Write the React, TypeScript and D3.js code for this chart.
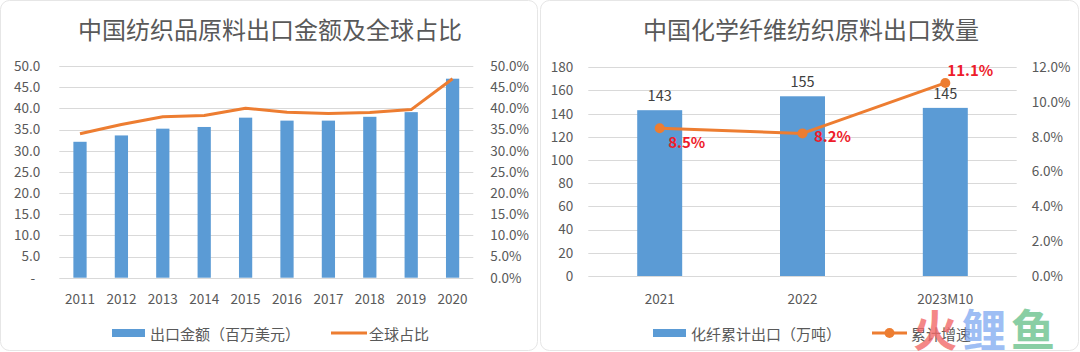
import React, { useEffect, useRef } from 'react'
import * as d3 from 'd3'

const W = 1080
const H = 352
const FONT = "'Noto Sans CJK SC', 'Noto Sans', sans-serif"
const BLUE = '#5B9BD5'
const ORANGE = '#ED7D31'
const GRID = '#D9D9D9'
const TEXT = '#595959'
const RED = '#EE1C2A'

// left chart: textile raw material exports
const leftTitle = '中国纺织品原料出口金额及全球占比'
const years = ['2011', '2012', '2013', '2014', '2015', '2016', '2017', '2018', '2019', '2020']
const exportValue = [32.1, 33.6, 35.2, 35.6, 37.8, 37.1, 37.1, 38.0, 39.1, 47.0]
const globalShare = [0.34, 0.362, 0.38, 0.383, 0.4, 0.391, 0.388, 0.39, 0.397, 0.47]
const leftLegend = ['出口金额（百万美元）', '全球占比']

// right chart: chemical fibre exports
const rightTitle = '中国化学纤维纺织原料出口数量'
const periods = ['2021', '2022', '2023M10']
const fiberExport = [143, 155, 145]
const fiberGrowth = [0.085, 0.082, 0.111]
const rightLegend = ['化纤累计出口（万吨）', '累计增速']

const watermark = ['火', '鲤', '鱼']

const App = () => {
  const ref = useRef<SVGSVGElement>(null)

  useEffect(() => {
    const svg = d3.select(ref.current)
    svg.selectAll('*').remove()
    svg.attr('font-family', FONT)

    svg.append('rect').attr('width', W).attr('height', H).attr('fill', '#fff')

    // cards
    svg.append('rect').attr('x', 0.5).attr('y', 0.5).attr('width', 537).attr('height', 350)
      .attr('rx', 9).attr('fill', 'none').attr('stroke', '#E6E6E6')
    svg.append('rect').attr('x', 540.5).attr('y', 0.5).attr('width', 538).attr('height', 350)
      .attr('rx', 9).attr('fill', 'none').attr('stroke', '#E6E6E6')

    const styleAxis = (g, anchor) => {
      g.select('.domain').remove()
      g.selectAll('text').attr('fill', TEXT).attr('font-size', 13.5).attr('font-family', FONT)
        .attr('text-anchor', anchor)
    }

    // ---------- left chart ----------
    {
      const g = svg.append('g')
      const x = d3.scaleBand().domain(years).range([59.3, 473.3]).paddingInner(0.68).paddingOuter(0.34)
      const y = d3.scaleLinear().domain([0, 50]).range([277.7, 66])
      const yR = d3.scaleLinear().domain([0, 0.5]).range([277.7, 66])

      g.append('g') // grid
        .selectAll('line')
        .data(y.ticks(10))
        .join('line')
        .attr('x1', 59.3).attr('x2', 473.3)
        .attr('y1', d => Math.round(y(d)) + 0.5).attr('y2', d => Math.round(y(d)) + 0.5)
        .attr('stroke', GRID)

      g.append('g')
        .attr('transform', 'translate(59.3,0)')
        .call(d3.axisLeft(y).ticks(10).tickSize(0).tickPadding(19)
          .tickFormat(d => (d === 0 ? '-' : d3.format('.1f')(d))))
        .call(a => styleAxis(a, 'end'))
        .call(a => a.selectAll('.tick text').filter(d => d === 0).attr('dx', -5))

      g.append('g')
        .attr('transform', 'translate(473.3,0)')
        .call(d3.axisRight(yR).ticks(10).tickSize(0).tickPadding(17).tickFormat(d3.format('.1%')))
        .call(a => styleAxis(a, 'start'))

      g.append('g') // bars
        .attr('fill', BLUE)
        .selectAll('rect')
        .data(exportValue)
        .join('rect')
        .attr('x', (d, i) => x(years[i]))
        .attr('y', d => y(d))
        .attr('width', x.bandwidth())
        .attr('height', d => y(0) - y(d))

      const line = d3.line<number>()
        .x((d, i) => x(years[i]) + x.bandwidth() / 2)
        .y(d => yR(d))
      g.append('path')
        .datum(globalShare)
        .attr('d', line)
        .attr('fill', 'none')
        .attr('stroke', ORANGE)
        .attr('stroke-width', 3)
        .attr('stroke-linejoin', 'round')

      g.append('g') // x labels
        .selectAll('text')
        .data(years)
        .join('text')
        .attr('x', d => x(d) + x.bandwidth() / 2)
        .attr('y', 298)
        .attr('dominant-baseline', 'central')
        .attr('text-anchor', 'middle')
        .attr('font-size', 13.5)
        .attr('fill', TEXT)
        .text(d => d)

      g.append('text')
        .attr('x', 270).attr('y', 28)
        .attr('text-anchor', 'middle').attr('dominant-baseline', 'central')
        .attr('font-size', 24).attr('fill', TEXT)
        .text(leftTitle)

      // legend
      g.append('rect').attr('x', 112).attr('y', 329).attr('width', 33).attr('height', 8).attr('fill', BLUE)
      g.append('text').attr('x', 150).attr('y', 333).attr('dominant-baseline', 'central')
        .attr('font-size', 15).attr('fill', TEXT).text(leftLegend[0])
      g.append('line').attr('x1', 331).attr('x2', 367).attr('y1', 333).attr('y2', 333)
        .attr('stroke', ORANGE).attr('stroke-width', 3)
      g.append('text').attr('x', 369).attr('y', 333).attr('dominant-baseline', 'central')
        .attr('font-size', 15).attr('fill', TEXT).text(leftLegend[1])
    }

    // ---------- right chart ----------
    {
      const g = svg.append('g')
      const x = d3.scaleBand().domain(periods).range([588.3, 1016.7]).paddingInner(0.685).paddingOuter(0.3425)
      const y = d3.scaleLinear().domain([0, 180]).range([276, 67.3])
      const yR = d3.scaleLinear().domain([0, 0.12]).range([276, 67.3])
      const cx = (i: number) => x(periods[i]) + x.bandwidth() / 2

      g.append('g') // grid
        .selectAll('line')
        .data(y.ticks(9))
        .join('line')
        .attr('x1', 588.3).attr('x2', 1016.7)
        .attr('y1', d => Math.round(y(d)) + 0.5).attr('y2', d => Math.round(y(d)) + 0.5)
        .attr('stroke', GRID)

      g.append('g')
        .attr('transform', 'translate(588.3,0)')
        .call(d3.axisLeft(y).ticks(9).tickSize(0).tickPadding(15))
        .call(a => styleAxis(a, 'end'))

      g.append('g')
        .attr('transform', 'translate(1016.7,0)')
        .call(d3.axisRight(yR).ticks(6).tickSize(0).tickPadding(15).tickFormat(d3.format('.1%')))
        .call(a => styleAxis(a, 'start'))

      g.append('g') // bars
        .attr('fill', BLUE)
        .selectAll('rect')
        .data(fiberExport)
        .join('rect')
        .attr('x', (d, i) => x(periods[i]))
        .attr('y', d => y(d))
        .attr('width', x.bandwidth())
        .attr('height', d => y(0) - y(d))

      g.append('g') // bar labels
        .selectAll('text')
        .data(fiberExport)
        .join('text')
        .attr('x', (d, i) => cx(i))
        .attr('y', d => y(d) - 15.5)
        .attr('text-anchor', 'middle')
        .attr('dominant-baseline', 'central')
        .attr('font-size', 14.5)
        .attr('fill', '#404040')
        .text(d => d)

      const line = d3.line<number>().x((d, i) => cx(i)).y(d => yR(d))
      g.append('path')
        .datum(fiberGrowth)
        .attr('d', line)
        .attr('fill', 'none')
        .attr('stroke', ORANGE)
        .attr('stroke-width', 3)
        .attr('stroke-linejoin', 'round')

      g.append('g')
        .attr('fill', ORANGE)
        .selectAll('circle')
        .data(fiberGrowth)
        .join('circle')
        .attr('cx', (d, i) => cx(i))
        .attr('cy', d => yR(d))
        .attr('r', 5)

      // growth label placement: right-below, right, right-above
      const labelOffset = [[27, 13], [30, 2], [25, -13]]
      g.append('g')
        .selectAll('text')
        .data(fiberGrowth)
        .join('text')
        .attr('x', (d, i) => cx(i) + labelOffset[i][0])
        .attr('y', (d, i) => yR(d) + labelOffset[i][1])
        .attr('text-anchor', 'middle')
        .attr('dominant-baseline', 'central')
        .attr('font-size', 15)
        .attr('font-weight', 'bold')
        .attr('fill', RED)
        .text(d => d3.format('.1%')(d))

      g.append('g') // x labels
        .selectAll('text')
        .data(periods)
        .join('text')
        .attr('x', (d, i) => cx(i))
        .attr('y', 298)
        .attr('dominant-baseline', 'central')
        .attr('text-anchor', 'middle')
        .attr('font-size', 13.5)
        .attr('fill', TEXT)
        .text(d => d)

      g.append('text')
        .attr('x', 811).attr('y', 28)
        .attr('text-anchor', 'middle').attr('dominant-baseline', 'central')
        .attr('font-size', 24).attr('fill', TEXT)
        .text(rightTitle)

      // legend
      g.append('rect').attr('x', 653).attr('y', 329).attr('width', 33).attr('height', 8).attr('fill', BLUE)
      g.append('text').attr('x', 691).attr('y', 333).attr('dominant-baseline', 'central')
        .attr('font-size', 15).attr('fill', TEXT).text(rightLegend[0])
      g.append('line').attr('x1', 872).attr('x2', 907).attr('y1', 333).attr('y2', 333)
        .attr('stroke', ORANGE).attr('stroke-width', 3)
      g.append('circle').attr('cx', 889.5).attr('cy', 333).attr('r', 5).attr('fill', ORANGE)
      g.append('text').attr('x', 911).attr('y', 333).attr('dominant-baseline', 'central')
        .attr('font-size', 15).attr('fill', TEXT).text(rightLegend[1])
    }

    // watermark
    const wmColors = ['#F26A6A', '#86AEF2', '#6CC38E']
    svg.append('g')
      .attr('opacity', 0.8)
      .selectAll('text')
      .data(watermark)
      .join('text')
      .attr('x', (d, i) => 935 + i * 49)
      .attr('y', 328)
      .attr('text-anchor', 'middle')
      .attr('dominant-baseline', 'central')
      .attr('font-size', 44)
      .attr('font-weight', 'bold')
      .attr('fill', (d, i) => wmColors[i])
      .text(d => d)
  }, [])

  return <svg ref={ref} width={W} height={H} style={{ position: 'absolute', left: 0, top: 0 }} />
}

export default App
